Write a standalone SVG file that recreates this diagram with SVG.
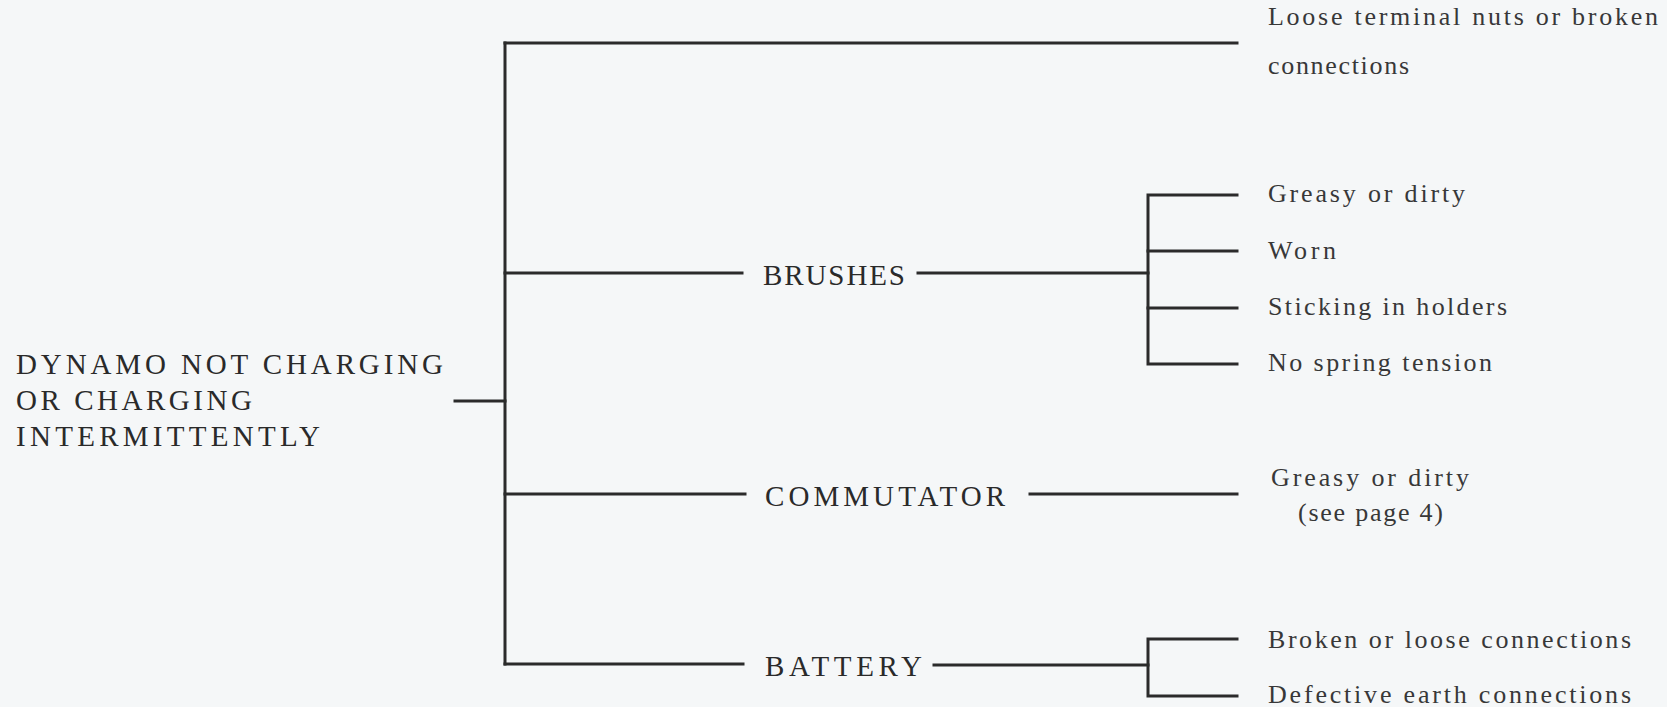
<svg xmlns="http://www.w3.org/2000/svg" width="1667" height="707" viewBox="0 0 1667 707">
<style>
  .bg { fill: #f5f7f8; }
  .ln { stroke: #2b2b2b; stroke-width: 3; fill: none; stroke-linecap: square; stroke-linejoin: miter; }
  .cap { font-family: "Liberation Serif", "Times New Roman", serif; font-size: 29px; fill: #2a2a2a; }
  .sm { font-family: "Liberation Serif", "Times New Roman", serif; font-size: 26px; fill: #383838; }
</style>
<rect class="bg" x="0" y="0" width="1667" height="707"/>
<g id="connectors">
  <path class="ln" d="M455 401 H505"/>
  <path class="ln" d="M505 43 V664"/>
  <path class="ln" d="M505 43 H1237"/>
  <path class="ln" d="M505 273 H742"/>
  <path class="ln" d="M918 273 H1148"/>
  <path class="ln" d="M1237 195 H1148 V364 H1237"/>
  <path class="ln" d="M1148 251 H1237"/>
  <path class="ln" d="M1148 308 H1237"/>
  <path class="ln" d="M505 494 H745"/>
  <path class="ln" d="M1030 494 H1237"/>
  <path class="ln" d="M505 664 H743"/>
  <path class="ln" d="M934 665 H1148"/>
  <path class="ln" d="M1237 639 H1148 V696 H1237"/>
</g>
<g id="root">
  <text class="cap" x="16" y="374" textLength="427" lengthAdjust="spacing">DYNAMO NOT CHARGING</text>
  <text class="cap" x="16" y="410" textLength="236" lengthAdjust="spacing">OR CHARGING</text>
  <text class="cap" x="16" y="446" textLength="304" lengthAdjust="spacing">INTERMITTENTLY</text>
</g>
<g id="loose-terminal">
  <text class="sm" x="1268" y="25" textLength="390" lengthAdjust="spacing">Loose terminal nuts or broken</text>
  <text class="sm" x="1268" y="74" textLength="141" lengthAdjust="spacing">connections</text>
</g>
<g id="brushes">
  <text class="cap" x="763" y="285" textLength="142" lengthAdjust="spacing">BRUSHES</text>
</g>
<g id="brushes-greasy"><text class="sm" x="1268" y="202" textLength="197" lengthAdjust="spacing">Greasy or dirty</text></g>
<g id="brushes-worn"><text class="sm" x="1268" y="259" textLength="68" lengthAdjust="spacing">Worn</text></g>
<g id="brushes-sticking"><text class="sm" x="1268" y="315" textLength="239" lengthAdjust="spacing">Sticking in holders</text></g>
<g id="brushes-spring"><text class="sm" x="1268" y="371" textLength="224" lengthAdjust="spacing">No spring tension</text></g>
<g id="commutator">
  <text class="cap" x="765" y="506" textLength="240" lengthAdjust="spacing">COMMUTATOR</text>
</g>
<g id="commutator-greasy">
  <text class="sm" x="1271" y="486" textLength="198" lengthAdjust="spacing">Greasy or dirty</text>
  <text class="sm" x="1298" y="521" textLength="145" lengthAdjust="spacing">(see page 4)</text>
</g>
<g id="battery">
  <text class="cap" x="765" y="676" textLength="157" lengthAdjust="spacing">BATTERY</text>
</g>
<g id="battery-broken"><text class="sm" x="1268" y="648" textLength="363" lengthAdjust="spacing">Broken or loose connections</text></g>
<g id="battery-earth"><text class="sm" x="1268" y="703" textLength="363" lengthAdjust="spacing">Defective earth connections</text></g>
</svg>
